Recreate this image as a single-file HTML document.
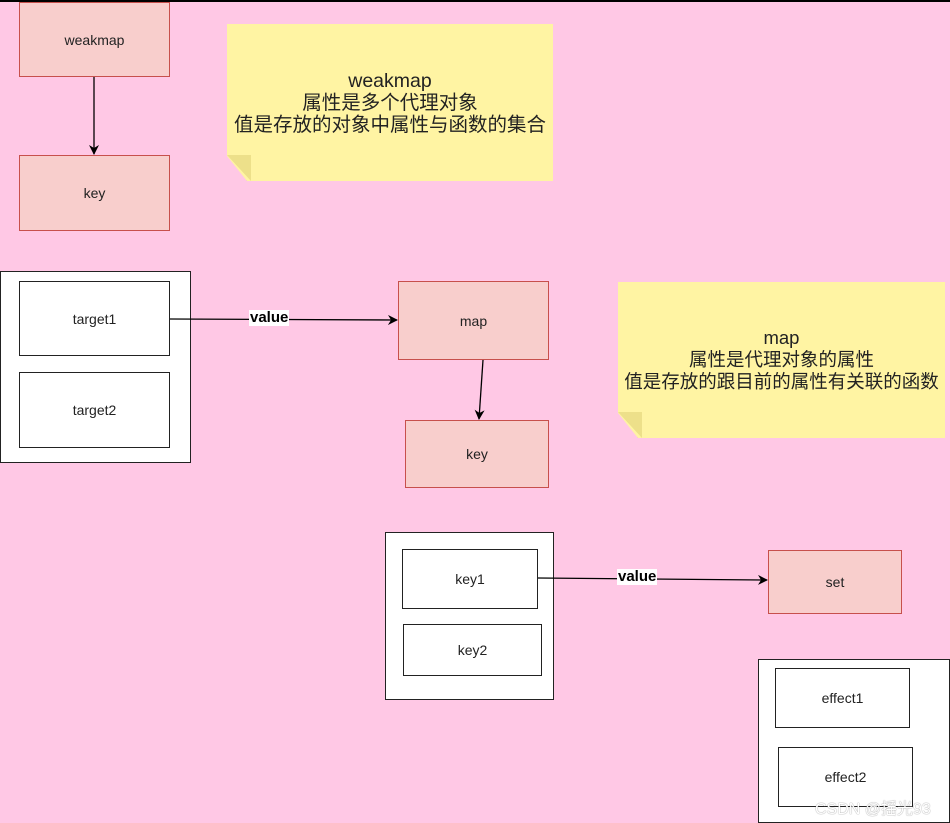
<!DOCTYPE html>
<html><head><meta charset="utf-8"><style>
body{margin:0;width:950px;height:823px;overflow:hidden;background:#ffc8e5;position:relative;font-family:"Liberation Sans","Noto Sans CJK SC",sans-serif;}
.b{position:absolute;box-sizing:border-box;display:flex;align-items:center;justify-content:center;font-size:14px;color:#222;}
.r{background:#f8cecc;border:1px solid #c7504c;}
.w{background:#fff;border:1px solid #222;}
.c{background:#fff;border:1px solid #222;}
.note{position:absolute;background:#fff4a3;text-align:center;color:#222;font-size:19.5px;line-height:22px;box-shadow:2px 2px 3px rgba(0,0,0,.25);display:flex;align-items:center;justify-content:center;clip-path:polygon(20px 100%,0 calc(100% - 25px),0 0,100% 0,100% 100%);white-space:nowrap;}
.fold{position:absolute;width:24px;height:26px;background:#ede08a;clip-path:polygon(0 0,100% 0,100% 100%);}
.lbl{position:absolute;background:#fff;font-weight:bold;font-size:15px;line-height:16px;padding:0 1px;}
</style></head><body>
<div style="position:absolute;left:0;top:0;width:950px;height:2px;background:#000"></div>
<div class="b r" style="left:19px;top:2px;width:151px;height:75px">weakmap</div>
<div class="b r" style="left:19px;top:155px;width:151px;height:76px">key</div>
<div class="note" style="left:227px;top:24px;width:326px;height:157px">weakmap<br>属性是多个代理对象<br>值是存放的对象中属性与函数的集合</div>
<div class="fold" style="left:227px;top:155px;"></div>

<div class="b c" style="left:0;top:271px;width:191px;height:192px"></div>
<div class="b w" style="left:19px;top:281px;width:151px;height:75px">target1</div>
<div class="b w" style="left:19px;top:372px;width:151px;height:76px">target2</div>

<div class="b r" style="left:398px;top:281px;width:151px;height:79px">map</div>
<div class="b r" style="left:405px;top:420px;width:144px;height:68px">key</div>

<div class="note" style="left:618px;top:282px;width:327px;height:156px;font-size:18.5px">map<br>属性是代理对象的属性<br>值是存放的跟目前的属性有关联的函数</div>
<div class="fold" style="left:618px;top:412px;"></div>

<div class="b c" style="left:385px;top:532px;width:169px;height:168px"></div>
<div class="b w" style="left:402px;top:549px;width:136px;height:60px">key1</div>
<div class="b w" style="left:403px;top:624px;width:139px;height:52px">key2</div>
<div class="b r" style="left:768px;top:550px;width:134px;height:64px">set</div>

<div class="b c" style="left:758px;top:659px;width:192px;height:164px"></div>
<div class="b w" style="left:775px;top:668px;width:135px;height:60px">effect1</div>
<div class="b w" style="left:778px;top:747px;width:135px;height:60px">effect2</div>

<svg style="position:absolute;left:0;top:0" width="950" height="823">
<defs><marker id="a" markerWidth="10" markerHeight="10" refX="9" refY="5" orient="auto" markerUnits="userSpaceOnUse"><path d="M0,0 L10,5 L0,10 L3,5 z" fill="#000"/></marker></defs>
<g stroke="#000" stroke-width="1.3" fill="none" marker-end="url(#a)">
<line x1="94" y1="77" x2="94" y2="154"/>
<line x1="170" y1="319" x2="397" y2="320"/>
<line x1="483" y1="360" x2="479" y2="419"/>
<line x1="538" y1="578" x2="767" y2="580"/>
</g></svg>
<div class="lbl" style="left:249px;top:310px">value</div>
<div class="lbl" style="left:617px;top:569px">value</div>
<div style="position:absolute;left:815px;top:795px;font-size:16px;color:#fff;text-shadow:0 0 1px #666;">CSDN @摇光93</div>
</body></html>
